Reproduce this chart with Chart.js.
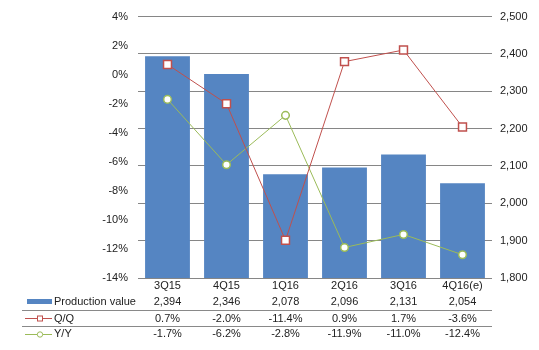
<!DOCTYPE html>
<html>
<head>
<meta charset="utf-8">
<script src="https://cdn.jsdelivr.net/npm/chart.js@4"></script>
<style>
    html, body { margin: 0; padding: 0; background: #fff; }
    #wrap { width: 539px; height: 350px; }
</style>
</head>
<body>
<div id="wrap"><canvas id="prodChart" width="539" height="350"></canvas></div>
<script>
// ========== DATA ==========
const quarters = ['3Q15', '4Q15', '1Q16', '2Q16', '3Q16', '4Q16(e)'];
const productionValue = [2394, 2346, 2078, 2096, 2131, 2054];
const qoq = [0.7, -2.0, -11.4, 0.9, 1.7, -3.6];
const yoy = [-1.7, -6.2, -2.8, -11.9, -11.0, -12.4];
// ==========================

const BAR_COLOR = '#5585C2';
const RED = '#C0504D';
const GREEN = '#9BBB59';
const TEXT = '#222';
const FONT = '11px "Liberation Sans", Arial, sans-serif';

// Draws the data table under the chart (legend keys + values per quarter)
const dataTablePlugin = {
    id: 'dataTable',
    afterDraw(chart) {
        const ctx = chart.ctx;
        const x = chart.scales.x;
        const rows = [
            { y: 302, values: productionValue.map(v => v.toLocaleString('en-US')) },
            { y: 319, values: qoq.map(v => v.toFixed(1) + '%') },
            { y: 334, values: yoy.map(v => v.toFixed(1) + '%') }
        ];

        ctx.save();

        // separators
        ctx.strokeStyle = '#898989';
        ctx.lineWidth = 1;
        [310.5, 326.5].forEach(yy => {
            ctx.beginPath();
            ctx.moveTo(22, yy);
            ctx.lineTo(492, yy);
            ctx.stroke();
        });

        // values
        ctx.font = FONT;
        ctx.fillStyle = TEXT;
        ctx.textAlign = 'center';
        ctx.textBaseline = 'middle';
        rows.forEach(row => {
            row.values.forEach((txt, i) => {
                ctx.fillText(txt, x.getPixelForValue(i), row.y);
            });
        });

        // legend keys
        ctx.fillStyle = BAR_COLOR;
        ctx.fillRect(27, 299, 25, 5);

        ctx.lineWidth = 1;
        ctx.strokeStyle = RED;
        ctx.beginPath();
        ctx.moveTo(25, 318.5);
        ctx.lineTo(52, 318.5);
        ctx.stroke();
        ctx.fillStyle = '#fff';
        ctx.fillRect(37.5, 316, 5, 5);
        ctx.strokeRect(37.5, 316, 5, 5);

        ctx.strokeStyle = GREEN;
        ctx.beginPath();
        ctx.moveTo(25, 334.5);
        ctx.lineTo(52, 334.5);
        ctx.stroke();
        ctx.beginPath();
        ctx.arc(40, 334.5, 2.7, 0, Math.PI * 2);
        ctx.fill();
        ctx.stroke();

        ctx.fillStyle = TEXT;
        ctx.textAlign = 'left';
        ctx.fillText('Production value', 54, 302);
        ctx.fillText('Q/Q', 54, 319);
        ctx.fillText('Y/Y', 54, 334);

        ctx.restore();
    }
};

const ctx = document.getElementById('prodChart').getContext('2d');

new Chart(ctx, {
    type: 'bar',
    data: {
        labels: quarters,
        datasets: [
            {
                type: 'line',
                label: 'Q/Q',
                data: qoq,
                yAxisID: 'y',
                borderColor: RED,
                borderWidth: 1,
                pointStyle: 'rect',
                pointRadius: 5.6,
                pointBorderWidth: 1.5,
                pointBackgroundColor: '#fff',
                pointBorderColor: RED,
                tension: 0,
                order: 1
            },
            {
                type: 'line',
                label: 'Y/Y',
                data: yoy,
                yAxisID: 'y',
                borderColor: GREEN,
                borderWidth: 1,
                pointStyle: 'circle',
                pointRadius: 3.8,
                pointBorderWidth: 1.5,
                pointBackgroundColor: '#fff',
                pointBorderColor: GREEN,
                tension: 0,
                order: 2
            },
            {
                label: 'Production value',
                data: productionValue,
                yAxisID: 'y1',
                backgroundColor: BAR_COLOR,
                categoryPercentage: 1,
                barPercentage: 0.76,
                order: 3
            }
        ]
    },
    options: {
        responsive: false,
        animation: false,
        devicePixelRatio: 1,
        layout: {
            padding: { top: 14, left: 0, right: 0, bottom: 0 }
        },
        plugins: {
            legend: { display: false },
            tooltip: { enabled: false }
        },
        scales: {
            x: {
                grid: { display: false, drawTicks: false },
                border: { display: false },
                ticks: {
                    color: TEXT,
                    font: { family: '"Liberation Sans", Arial, sans-serif', size: 11 },
                    padding: 1,
                    maxRotation: 0
                },
                afterFit(scale) { scale.height = 72; }
            },
            y: {
                position: 'left',
                min: -14,
                max: 4,
                grid: { display: false, drawTicks: false },
                border: { display: false },
                ticks: {
                    stepSize: 2,
                    color: TEXT,
                    font: { family: '"Liberation Sans", Arial, sans-serif', size: 11 },
                    padding: 10,
                    callback: v => v + '%'
                },
                afterFit(scale) { scale.width = 138; }
            },
            y1: {
                position: 'right',
                min: 1800,
                max: 2500,
                grid: { color: '#868686', lineWidth: 1, drawTicks: false },
                border: { display: false },
                ticks: {
                    stepSize: 100,
                    color: TEXT,
                    font: { family: '"Liberation Sans", Arial, sans-serif', size: 11 },
                    padding: 8,
                    callback: v => v.toLocaleString('en-US')
                },
                afterFit(scale) { scale.width = 47; }
            }
        }
    },
    plugins: [dataTablePlugin]
});
</script>
</body>
</html>
